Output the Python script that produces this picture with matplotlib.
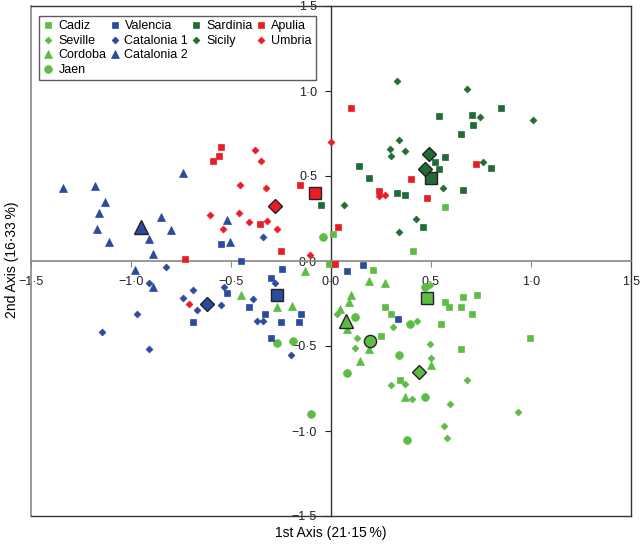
import matplotlib.pyplot as plt
from matplotlib.lines import Line2D
from matplotlib.ticker import FuncFormatter

plt.rcParams['font.family'] = ['Liberation Sans', 'DejaVu Sans']

# sample scores (1st axis, 2nd axis)
cadiz_x = [0.21, -0.01, 0.57, 0.59, 0.66, 0.65, 0.705, 0.73, 0.27, 0.30, 0.25, 0.55, 0.65, 0.345, 0.41, 0.57, 0.995, 0.01]
cadiz_y = [-0.055, -0.02, -0.24, -0.27, -0.21, -0.27, -0.31, -0.20, -0.27, -0.31, -0.44, -0.37, -0.515, -0.70, 0.06, 0.32, -0.455, 0.16]

seville_x = [0.03, 0.13, 0.12, 0.31, 0.43, 0.495, 0.50, 0.30, 0.37, 0.405, 0.68, 0.595, 0.565, 0.58, 0.935, 0.495]
seville_y = [-0.31, -0.45, -0.51, -0.39, -0.355, -0.49, -0.57, -0.73, -0.725, -0.81, -0.70, -0.84, -0.97, -1.04, -0.89, -0.14]

cordoba_x = [-0.13, 0.19, 0.27, 0.10, 0.09, 0.045, 0.08, 0.19, 0.145, 0.50, 0.37, -0.45, -0.27, -0.195]
cordoba_y = [-0.06, -0.12, -0.13, -0.20, -0.24, -0.28, -0.40, -0.52, -0.59, -0.61, -0.80, -0.20, -0.27, -0.265]

jaen_x = [0.12, 0.395, 0.34, 0.08, 0.47, -0.10, 0.38, 0.47, -0.27, -0.19, -0.04]
jaen_y = [-0.33, -0.37, -0.55, -0.66, -0.80, -0.90, -1.055, -0.15, -0.48, -0.47, 0.14]

valencia_x = [-0.52, -0.69, -0.41, -0.33, -0.30, -0.245, -0.25, -0.15, -0.16, -0.30, -0.45, -0.55, 0.08, 0.16, 0.335]
valencia_y = [-0.19, -0.36, -0.27, -0.31, -0.10, -0.045, -0.36, -0.31, -0.36, -0.45, 0.0, 0.10, -0.06, -0.025, -0.34]

catalonia1_x = [-0.825, -0.91, -0.69, -0.74, -0.67, -0.97, -1.145, -0.91, -0.55, -0.535, -0.39, -0.37, -0.34, -0.28, -0.20, -0.34]
catalonia1_y = [-0.035, -0.13, -0.17, -0.22, -0.29, -0.31, -0.42, -0.52, -0.26, -0.15, -0.225, -0.35, -0.35, -0.13, -0.55, 0.14]

catalonia2_x = [-1.34, -1.18, -1.13, -1.16, -1.17, -1.11, -0.85, -0.80, -0.91, -0.89, -0.74, -0.98, -0.89, -0.52, -0.505]
catalonia2_y = [0.43, 0.44, 0.35, 0.28, 0.19, 0.11, 0.26, 0.18, 0.13, 0.04, 0.52, -0.05, -0.15, 0.24, 0.11]

sardinia_x = [0.54, 0.705, 0.71, 0.85, 0.65, 0.57, 0.52, 0.54, 0.80, 0.66, 0.14, 0.19, 0.33, 0.37, 0.46, -0.05]
sardinia_y = [0.855, 0.86, 0.80, 0.90, 0.75, 0.61, 0.58, 0.54, 0.55, 0.42, 0.56, 0.49, 0.40, 0.39, 0.20, 0.33]

sicily_x = [0.33, 0.68, 0.745, 0.34, 0.295, 0.30, 0.37, 0.76, 0.56, 0.065, 0.425, 0.34, 1.01]
sicily_y = [1.06, 1.01, 0.85, 0.71, 0.66, 0.62, 0.65, 0.58, 0.43, 0.33, 0.25, 0.17, 0.83]

apulia_x = [0.10, 0.40, 0.725, 0.24, 0.48, 0.035, -0.55, -0.56, -0.59, -0.155, -0.355, -0.25, 0.02, -0.73]
apulia_y = [0.90, 0.48, 0.57, 0.41, 0.37, 0.20, 0.67, 0.62, 0.59, 0.445, 0.22, 0.06, -0.02, 0.01]

umbria_x = [-0.38, -0.35, -0.455, -0.325, -0.605, -0.46, -0.41, -0.32, -0.54, -0.27, 0.0, -0.105, 0.24, 0.27, -0.71]
umbria_y = [0.655, 0.59, 0.445, 0.43, 0.27, 0.285, 0.23, 0.235, 0.19, 0.19, 0.70, 0.035, 0.385, 0.39, -0.25]

# population centroids
cent_names = ['Cadiz', 'Seville', 'Cordoba', 'Jaen', 'Valencia', 'Catalonia 1', 'Catalonia 2',
              'Sardinia', 'Sicily', 'Sicily', 'Apulia', 'Umbria']
cent_x = [0.48, 0.44, 0.075, 0.195, -0.27, -0.62, -0.95, 0.50, 0.49, 0.47, -0.08, -0.28]
cent_y = [-0.22, -0.65, -0.35, -0.47, -0.20, -0.25, 0.20, 0.49, 0.63, 0.54, 0.40, 0.325]

ticks = [-1.5, -1.0, -0.5, 0.0, 0.5, 1.0, 1.5]

light = '#5ebc46'
blue = '#2d4b9e'
dark = '#226b36'
red = '#ec1c24'

style = {
    'Cadiz': (light, 's'), 'Seville': (light, 'D'), 'Cordoba': (light, '^'), 'Jaen': (light, 'o'),
    'Valencia': (blue, 's'), 'Catalonia 1': (blue, 'D'), 'Catalonia 2': (blue, '^'),
    'Sardinia': (dark, 's'), 'Sicily': (dark, 'D'),
    'Apulia': (red, 's'), 'Umbria': (red, 'D'),
}
small = {'s': 5.0, 'D': 3.5, '^': 5.4, 'o': 5.6}
big = {'s': 8.8, 'D': 7.0, '^': 9.5, 'o': 8.8}

data = {
    'Cadiz': (cadiz_x, cadiz_y), 'Seville': (seville_x, seville_y),
    'Cordoba': (cordoba_x, cordoba_y), 'Jaen': (jaen_x, jaen_y),
    'Valencia': (valencia_x, valencia_y), 'Catalonia 1': (catalonia1_x, catalonia1_y),
    'Catalonia 2': (catalonia2_x, catalonia2_y),
    'Sardinia': (sardinia_x, sardinia_y), 'Sicily': (sicily_x, sicily_y),
    'Apulia': (apulia_x, apulia_y), 'Umbria': (umbria_x, umbria_y),
}

fig = plt.figure(figsize=(6.4, 5.45), dpi=100)
ax = fig.add_axes([31 / 640, 1 - 516 / 545, 600 / 640, 510 / 545])

handles = {}
for name, (x, y) in data.items():
    c, m = style[name]
    h, = ax.plot(x, y, linestyle='none', marker=m, ms=small[m], color=c, mec=c, mew=0.5, zorder=3)
    handles[name] = h

for name, x, y in zip(cent_names, cent_x, cent_y):
    c, m = style[name]
    ax.plot(x, y, linestyle='none', marker=m, ms=big[m], color=c, mec='#222222', mew=1.0, zorder=4)

ax.set_xlim(-1.5, 1.5)
ax.set_ylim(-1.5, 1.5)

# axes crossing at the origin, plus an outer frame
ax.spines['left'].set_position(('data', 0))
ax.spines['bottom'].set_position(('data', 0))
ax.spines['left'].set_color('#333333')
ax.spines['bottom'].set_color('#888888')
ax.spines['left'].set_linewidth(1.0)
ax.spines['bottom'].set_linewidth(1.2)
for s in ['top', 'right']:
    ax.spines[s].set_color('#333333')
    ax.spines[s].set_linewidth(1.0)
ax.plot([0, 0], [0, 1], transform=ax.transAxes, color='#888888', lw=1.2, clip_on=False)
ax.plot([0, 1], [0, 0], transform=ax.transAxes, color='#333333', lw=1.0, clip_on=False)

fmt = FuncFormatter(lambda v, p: ('%.1f' % v).replace('.', '\u00b7').replace('-', '\u2212'))
ax.set_xticks(ticks)
ax.set_yticks(ticks)
ax.xaxis.set_major_formatter(fmt)
ax.yaxis.set_major_formatter(fmt)
ax.tick_params(axis='x', direction='out', length=4, width=0.8, pad=7, labelsize=9, colors='#222222')
ax.tick_params(axis='y', direction='out', length=4, width=0.8, pad=6, labelsize=9, colors='#222222')
ax.tick_params(axis='x', color='#888888')

fig.text(331 / 640, 1 - 533 / 545, '1st Axis (21\u00b715\u2009%)', ha='center', va='center', fontsize=10,
         family=['Liberation Sans', 'DejaVu Sans'])
fig.text(12 / 640, 1 - 260 / 545, '2nd Axis (16\u00b733\u2009%)', ha='center', va='center', fontsize=10,
         rotation=90, family=['Liberation Sans', 'DejaVu Sans'])

blank = Line2D([], [], linestyle='none')
order = ['Cadiz', 'Seville', 'Cordoba', 'Jaen',
         'Valencia', 'Catalonia 1', 'Catalonia 2', None,
         'Sardinia', 'Sicily', None, None,
         'Apulia', 'Umbria', None, None]
leg_h = [handles[n] if n else blank for n in order]
leg_l = [n if n else '' for n in order]
leg = ax.legend(leg_h, leg_l, ncol=4, loc='upper left', bbox_to_anchor=(39 / 640, 1 - 16 / 545),
                bbox_transform=fig.transFigure, borderaxespad=0, fontsize=9, frameon=True,
                fancybox=False, edgecolor='#333333', handlelength=0.8, handletextpad=0.4,
                columnspacing=0.25, labelspacing=0.2, borderpad=0.35, markerscale=1.0)
leg.get_frame().set_linewidth(1.0)

fig.savefig('out.png', dpi=100)
